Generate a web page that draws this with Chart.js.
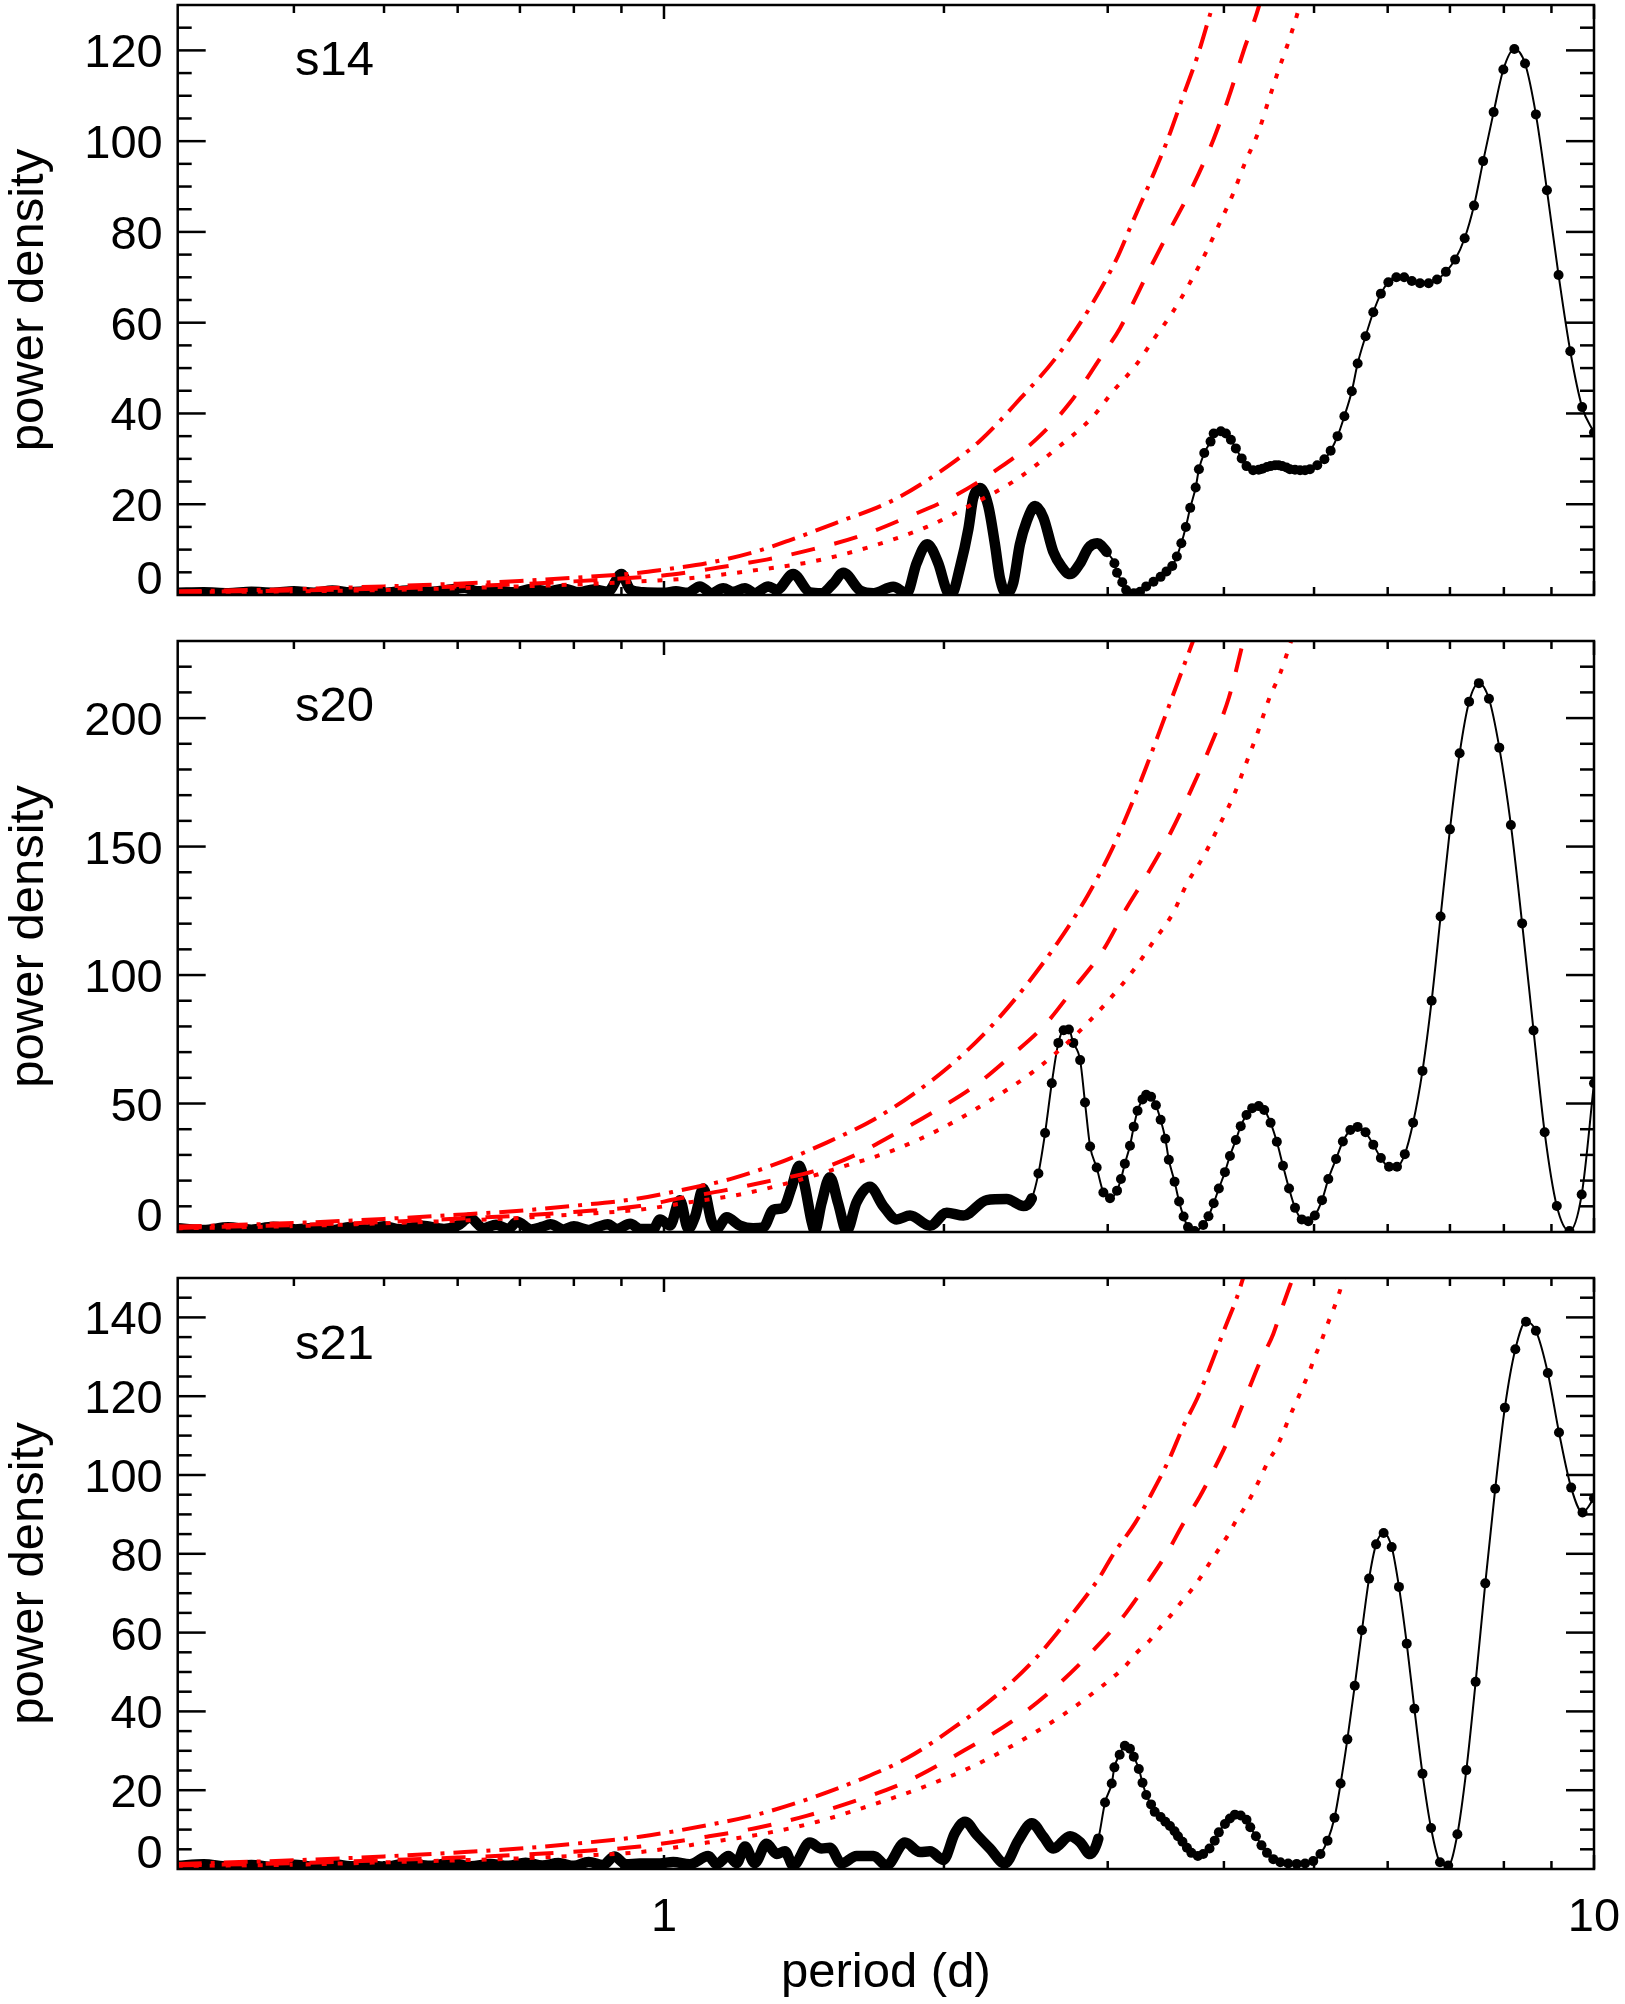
<!DOCTYPE html>
<html>
<head>
<meta charset="utf-8">
<script src="https://cdn.jsdelivr.net/npm/chart.js@4.4.1/dist/chart.umd.min.js"></script>
<style>
  html, body { margin: 0; padding: 0; background: #fff; }
  #wrap { position: relative; width: 1625px; height: 2004px; background: #fff; overflow: hidden; }
  canvas { position: absolute; left: 0; }
</style>
</head>
<body>
<div id="wrap">
  <canvas id="c1" width="1625" height="618" style="top:0px;width:1625px;height:618px"></canvas>
  <canvas id="c2" width="1625" height="637" style="top:618px;width:1625px;height:637px"></canvas>
  <canvas id="c3" width="1625" height="749" style="top:1255px;width:1625px;height:749px"></canvas>
</div>
<script>
// ---- data: [period (d), power density] ----

const s14Black = [[0.30,0.5],[0.32,0.6],[0.34,0.4],[0.36,0.7],[0.38,0.5],[0.40,0.8],[0.42,0.5],[0.44,1.0],[0.46,0.6],[0.48,0.8],[0.50,0.5],
  [0.53,1.0],[0.56,0.7],[0.59,1.2],[0.61,1.6],[0.63,0.8],[0.66,1.0],[0.69,0.6],[0.72,1.3],[0.75,0.8],[0.78,1.4],[0.81,0.6],[0.84,1.2],[0.87,0.7],[0.90,4.6],[0.92,1.2],[0.95,0.6],
  [1.00,0.5],[1.03,0.8],[1.06,0.5],[1.093,1.9],[1.125,0.4],[1.158,1.5],[1.187,0.7],[1.222,1.5],[1.252,0.4],[1.295,1.9],[1.322,1.1],[1.377,4.6],[1.435,0.6],[1.477,0.4],[1.52,2.5],[1.559,4.9],
  [1.625,1.0],[1.68,0.4],[1.764,1.8],[1.824,0.4],[1.869,7.0],[1.919,11.2],[1.972,7.0],[2.014,1.0],[2.039,0.3],[2.081,6.1],[2.125,14.6],[2.15,21.3],[2.187,23.6],[2.232,19.6],[2.269,11.2],
  [2.298,3.6],[2.336,0.3],[2.375,2.8],[2.414,11.2],[2.455,16.3],[2.506,19.6],[2.558,17.1],[2.622,9.5],[2.677,6.2],[2.733,4.6],[2.802,7.0],[2.86,10.4],[2.924,11.4],[2.992,9.5],
  [3.05,7.0],[3.07,4.9],[3.11,2.8],[3.14,1.1],[3.20,0.4],[3.25,0.7],[3.30,1.9],[3.36,2.9],[3.42,4.0],[3.47,5.2],[3.52,6.4],[3.56,8.5],[3.60,11.4],[3.64,15.0],[3.68,19.2],[3.73,23.7],
  [3.76,27.7],[3.81,31.3],[3.87,33.8],[3.90,35.6],[3.97,36.1],[4.02,35.6],[4.07,34.2],[4.12,32.3],[4.18,30.1],[4.23,28.4],[4.30,27.5],[4.36,27.6],[4.40,27.8],[4.45,28.2],[4.49,28.4],
  [4.54,28.6],[4.58,28.6],[4.62,28.4],[4.67,28.1],[4.71,27.7],[4.77,27.6],[4.83,27.5],[4.89,27.5],[4.95,27.7],[5.04,28.6],[5.13,29.9],[5.21,31.8],[5.30,35.0],[5.39,39.4],[5.49,44.9],
  [5.57,51.0],[5.68,57.0],[5.79,62.3],[5.90,66.4],[6.01,68.9],[6.13,70.0],[6.25,70.0],[6.37,69.2],[6.50,68.7],[6.64,68.7],[6.78,69.5],[6.93,71.2],[7.09,73.9],[7.26,78.6],[7.43,85.8],
  [7.60,95.6],[7.80,106.4],[7.99,115.8],[8.21,120.3],[8.43,117.1],[8.66,105.9],[8.90,89.2],[9.16,70.5],[9.43,53.7],[9.71,41.4],[10.0,35.8]];
const s14DashDot = [[0.30,0.8],[0.40,1.3],[0.50,1.9],[0.60,2.5],[0.70,3.1],[0.80,3.8],[0.942,4.9],[1.0,5.6],[1.112,7.0],[1.247,9.4],[1.362,12.0],[1.527,15.8],[1.764,20.9],[1.981,27.2],
  [2.187,34.0],[2.414,43.2],[2.644,52.5],[2.872,63.4],[3.066,74.0],[3.18,81.5],[3.35,92.1],[3.47,99.7],[3.62,110.2],[3.75,119.0],[3.87,128.3],[3.90,130.5]];
const s14Dashed = [[0.30,0.6],[0.40,1.0],[0.50,1.4],[0.60,1.9],[0.70,2.4],[0.80,3.0],[0.942,3.9],[1.02,4.5],[1.149,6.1],[1.289,7.8],[1.447,10.1],[1.625,13.0],[1.824,17.1],[2.047,21.7],
  [2.298,28.1],[2.516,34.4],[2.733,42.4],[2.943,52.1],[3.093,58.8],[3.33,71.9],[3.49,80.0],[3.71,90.4],[3.90,100.5],[4.05,109.8],[4.20,119.9],[4.36,129.6],[4.37,130.4]];
const s14Dotted = [[0.30,0.5],[0.40,0.8],[0.50,1.1],[0.60,1.5],[0.70,1.9],[0.80,2.3],[0.942,3.0],[1.066,3.7],[1.237,5.3],[1.447,7.4],[1.652,10.4],[1.917,15.0],[2.150,20.1],[2.395,25.5],
  [2.644,32.3],[2.895,39.4],[3.04,44.9],[3.21,50.4],[3.36,56.3],[3.52,62.2],[3.68,68.9],[3.82,75.2],[3.96,82.0],[4.09,88.3],[4.21,95.0],[4.36,102.2],[4.46,108.5],[4.58,115.7],
  [4.71,122.8],[4.82,129.6],[4.83,130.4]];

const s20Black = [[0.30,1.5],[0.32,0.8],[0.34,1.8],[0.36,0.9],[0.38,2.0],[0.40,1.0],[0.42,1.6],[0.44,0.7],[0.46,1.9],[0.48,1.0],[0.50,2.2],[0.52,1.1],[0.55,2.4],[0.58,1.2],[0.60,2.5],
  [0.618,5.5],[0.64,1.5],[0.66,2.8],[0.68,1.2],[0.695,4.0],[0.72,1.0],[0.74,2.0],[0.755,3.0],[0.78,1.0],[0.80,2.2],[0.83,0.8],[0.85,2.0],[0.87,3.0],[0.89,1.2],[0.92,3.2],[0.942,1.2],
  [0.974,1.2],[0.990,4.9],[1.015,2.5],[1.040,12.4],[1.062,1.2],[1.080,6.0],[1.102,16.9],[1.125,4.2],[1.139,1.2],[1.168,5.7],[1.207,2.5],[1.247,1.5],[1.279,1.8],[1.311,8.7],[1.344,9.4],
  [1.372,17.6],[1.398,25.8],[1.418,17.6],[1.441,4.2],[1.453,0.4],[1.477,11.2],[1.508,21.3],[1.539,11.2],[1.572,0.4],[1.611,11.6],[1.665,17.6],[1.721,10.1],[1.779,4.9],[1.839,6.4],
  [1.932,2.4],[2.014,7.5],[2.099,6.4],[2.223,12.4],[2.336,12.8],[2.435,10.1],[2.486,13.1],
  [2.527,22.8],[2.569,38.5],[2.612,57.9],[2.655,73.6],[2.690,78.5],[2.725,78.8],[2.755,73.6],[2.802,66.9],[2.836,50.4],[2.872,33.3],[2.919,25.1],[2.968,15.4],[3.017,13.1],[3.07,16.1],
  [3.10,20.6],[3.13,26.6],[3.17,33.6],[3.20,41.0],[3.23,47.2],[3.27,51.6],[3.30,53.4],[3.34,52.6],[3.38,49.3],[3.42,43.7],[3.46,36.3],[3.49,28.1],[3.54,19.6],[3.58,11.9],[3.62,6.0],
  [3.66,1.9],[3.72,0.4],[3.80,2.7],[3.85,6.1],[3.90,11.2],[3.95,16.9],[4.01,23.3],[4.06,29.6],[4.12,35.8],[4.17,41.2],[4.23,45.5],[4.29,48.2],[4.36,49.0],[4.42,47.5],[4.49,42.5],
  [4.56,35.1],[4.63,25.8],[4.70,16.9],[4.77,9.4],[4.85,4.9],[4.93,4.2],[5.01,6.4],[5.10,12.4],[5.18,20.6],[5.28,28.4],[5.37,35.2],[5.47,39.7],[5.57,40.9],[5.68,38.8],[5.79,34.0],
  [5.90,28.8],[6.02,25.4],[6.14,25.4],[6.26,30.3],[6.39,42.5],[6.54,62.7],[6.69,90.0],[6.84,122.8],[7.00,156.7],[7.17,186.3],[7.34,206.4],[7.52,213.6],[7.71,207.5],[7.91,188.5],
  [8.14,158.4],[8.37,120.1],[8.61,78.4],[8.85,38.8],[9.12,10.1],[9.41,0.4],[9.70,14.6],[10.0,57.9]];
const s20DashDot = [[0.30,2.1],[0.40,3.5],[0.50,5.1],[0.60,6.7],[0.70,8.3],[0.80,10.2],[0.942,13.1],[1.040,16.2],[1.178,20.6],[1.322,26.6],[1.496,34.8],[1.680,43.7],[1.854,53.7],
  [2.052,66.1],[2.256,80.6],[2.46,96.7],[2.656,113.1],[2.855,131.0],[3.036,149.4],[3.17,165.0],[3.30,181.0],[3.42,196.0],[3.56,213.0],[3.71,230.5]];
const s20Dashed = [[0.30,1.6],[0.40,2.7],[0.50,3.9],[0.60,5.2],[0.70,6.4],[0.80,7.8],[0.942,10.1],[1.040,13.1],[1.158,16.1],[1.300,19.9],[1.447,23.6],[1.598,29.6],[1.764,37.8],
  [1.948,46.7],[2.150,56.4],[2.35,67.9],[2.569,80.7],[2.76,94.9],[2.963,109.4],[3.14,125.8],[3.30,138.5],[3.50,154.9],[3.68,171.3],[3.87,189.3],[4.05,208.0],[4.20,230.5]];
const s20Dotted = [[0.30,1.4],[0.40,2.3],[0.50,3.4],[0.60,4.4],[0.70,5.5],[0.80,6.8],[0.942,8.7],[1.066,11.6],[1.207,14.6],[1.377,19.6],[1.546,25.1],[1.764,31.8],[1.981,40.0],
  [2.241,51.2],[2.495,62.4],[2.755,75.8],[2.992,89.3],[3.21,102.7],[3.36,113.1],[3.52,123.6],[3.65,135.5],[3.81,146.7],[3.95,157.9],[4.09,169.1],[4.22,181.8],[4.35,194.5],
  [4.47,207.2],[4.60,217.6],[4.73,230.5]];

const s21Black = [[0.30,0.8],[0.32,1.2],[0.34,0.6],[0.36,1.0],[0.38,0.5],[0.40,1.1],[0.42,0.6],[0.44,1.3],[0.46,0.7],[0.48,1.0],[0.50,0.6],[0.53,1.4],[0.56,0.8],[0.59,1.5],[0.62,0.7],
  [0.65,1.3],[0.68,0.8],[0.71,1.6],[0.74,0.9],[0.77,1.5],[0.80,0.8],[0.83,1.8],[0.86,1.0],[0.884,3.2],[0.91,1.2],[0.942,1.4],[0.990,1.4],[1.023,1.8],[1.066,1.2],[1.116,3.3],[1.139,1.2],
  [1.173,3.3],[1.197,1.5],[1.222,5.7],[1.252,1.5],[1.289,6.4],[1.322,3.8],[1.349,4.5],[1.377,0.9],[1.435,6.7],[1.477,5.2],[1.508,5.4],[1.552,1.4],[1.611,3.3],[1.680,3.3],[1.735,0.9],
  [1.816,6.7],[1.885,4.3],[1.932,4.5],[1.997,2.3],[2.055,9.1],[2.107,12.0],[2.169,8.7],[2.241,5.2],[2.326,1.4],[2.404,7.2],[2.486,11.6],[2.558,8.2],[2.622,5.2],[2.733,8.3],[2.802,6.8],
  [2.872,3.8],[2.931,7.7],
  [2.980,16.9],[3.03,21.7],[3.05,25.8],[3.09,29.0],[3.13,31.3],[3.17,30.5],[3.20,28.5],[3.24,25.4],[3.27,21.9],[3.30,18.8],[3.34,16.4],[3.37,14.5],[3.42,13.2],[3.46,12.0],[3.50,10.9],
  [3.54,9.6],[3.57,8.3],[3.61,6.9],[3.65,5.4],[3.69,4.1],[3.75,3.3],[3.80,3.8],[3.86,5.2],[3.91,7.2],[3.95,9.3],[4.01,11.4],[4.06,12.8],[4.11,13.8],[4.17,13.6],[4.23,12.5],[4.27,10.6],
  [4.33,8.3],[4.39,6.0],[4.45,4.1],[4.52,2.5],[4.60,1.7],[4.69,1.4],[4.79,1.3],[4.89,1.4],[4.99,2.0],[5.08,3.8],[5.17,7.2],[5.26,13.0],[5.34,21.7],[5.43,32.9],[5.53,46.5],[5.63,60.6],
  [5.73,73.7],[5.83,82.4],[5.94,85.3],[6.06,81.7],[6.17,71.6],[6.29,57.2],[6.41,40.7],[6.54,24.2],[6.68,10.4],[6.83,1.7],[6.97,0.9],[7.13,8.8],[7.29,25.1],[7.46,47.5],[7.64,72.5],
  [7.83,96.5],[8.02,117.1],[8.23,131.9],[8.45,138.9],[8.66,136.6],[8.92,125.9],[9.17,110.8],[9.45,96.8],[9.72,90.5],[10.0,94.1]];
const s21DashDot = [[0.30,1.3],[0.40,2.2],[0.50,3.2],[0.60,4.2],[0.70,5.2],[0.80,6.4],[0.942,8.2],[1.112,11.1],[1.268,14.0],[1.435,17.9],[1.625,22.7],[1.824,28.1],[2.047,35.8],
  [2.279,44.1],[2.495,52.8],[2.733,64.0],[2.943,74.2],[3.04,79.8],[3.21,87.8],[3.34,95.0],[3.49,103.8],[3.62,112.5],[3.75,119.8],[3.88,128.5],[4.01,137.3],[4.13,145.0],[4.20,150.4]];
const s21Dashed = [[0.30,0.9],[0.40,1.5],[0.50,2.2],[0.60,2.9],[0.70,3.6],[0.80,4.4],[0.942,5.7],[1.112,8.2],[1.268,10.6],[1.423,13.5],[1.611,17.4],[1.824,22.2],[2.064,29.0],
  [2.388,38.1],[2.616,45.5],[2.848,53.8],[3.03,60.6],[3.14,65.0],[3.30,72.2],[3.47,80.0],[3.62,87.8],[3.77,94.6],[3.92,102.3],[4.03,108.2],[4.15,115.4],[4.27,122.7],[4.37,128.5],
  [4.52,135.8],[4.63,143.1],[4.75,150.4]];
const s21Dotted = [[0.30,0.7],[0.40,1.1],[0.50,1.7],[0.60,2.2],[0.70,2.7],[0.80,3.3],[0.942,4.3],[1.112,6.7],[1.289,9.1],[1.462,12.0],[1.680,16.4],[1.900,20.8],[2.150,26.1],
  [2.414,32.4],[2.688,39.2],[2.943,46.0],[3.03,48.4],[3.13,51.4],[3.22,54.8],[3.32,57.7],[3.41,61.1],[3.51,64.5],[3.59,67.4],[3.69,70.8],[3.78,74.2],[3.86,77.6],[3.95,81.2],[4.04,84.7],
  [4.12,88.3],[4.21,91.7],[4.30,95.5],[4.38,99.4],[4.46,103.3],[4.55,106.7],[4.63,110.6],[4.70,114.5],[4.78,118.3],[4.86,122.2],[4.94,126.1],[5.01,130.0],[5.09,133.9],[5.16,137.8],
  [5.24,141.7],[5.31,145.5],[5.39,150.4]];

// ---- axes ----
const xMajorTicks = [1, 10];
const xMinorTicks = [0.4, 0.5, 0.6, 0.7, 0.8, 0.9, 2, 3, 4, 5, 6, 7, 8, 9];
const xTickLabels = ['1', '10'];
const s14YLabels = [0, 20, 40, 60, 80, 100, 120];
const s20YLabels = [0, 50, 100, 150, 200];
const s21YLabels = [0, 20, 40, 60, 80, 100, 120, 140];

const FONT = '"Liberation Sans", Arial, Helvetica, sans-serif';
const RED = '#ff0000';

const toXY = arr => arr.map(p => ({ x: p[0], y: p[1] }));

// IDL-like box with inward ticks on all four sides
const idlAxes = {
  id: 'idlAxes',
  afterDraw(chart) {
    const o = chart.options.plugins.idlAxes;
    const { ctx, chartArea: a } = chart;
    const xs = chart.scales.x, ys = chart.scales.y;
    const seg = (x1, y1, x2, y2) => { ctx.beginPath(); ctx.moveTo(x1, y1); ctx.lineTo(x2, y2); ctx.stroke(); };
    ctx.save();
    ctx.strokeStyle = '#000';
    ctx.fillStyle = '#000';
    ctx.lineWidth = 2.5;

    xMinorTicks.forEach(v => {
      const px = xs.getPixelForValue(v);
      seg(px, a.bottom, px, a.bottom - 8);
      seg(px, a.top, px, a.top + 8);
    });
    xMajorTicks.forEach(v => {
      const px = xs.getPixelForValue(v);
      seg(px, a.bottom, px, a.bottom - 14);
      seg(px, a.top, px, a.top + 14);
    });
    const n = Math.round(o.yMax / o.minor);
    for (let i = 1; i < n; i++) {
      const v = i * o.minor;
      const len = (v % o.major === 0) ? 28 : 14;
      const py = ys.getPixelForValue(v);
      seg(a.left, py, a.left + len, py);
      seg(a.right, py, a.right - len, py);
    }
    ctx.strokeRect(a.left, a.top, a.right - a.left, a.bottom - a.top);

    // y tick labels
    ctx.font = '47px ' + FONT;
    ctx.textAlign = 'right';
    ctx.textBaseline = 'alphabetic';
    o.labels.forEach(v => {
      const py = ys.getPixelForValue(v);
      const base = v === 0 ? a.bottom - 1 : py + 17;
      ctx.fillText(String(v), a.left - 15, base);
    });

    // panel name
    ctx.font = '49px ' + FONT;
    ctx.textAlign = 'left';
    ctx.fillText(o.name, 295, a.top + o.nameOffset + 17.5);

    // y title
    ctx.save();
    ctx.translate(43, (a.top + a.bottom) / 2);
    ctx.rotate(-Math.PI / 2);
    ctx.textAlign = 'center';
    ctx.fillText('power density', 0, 0);
    ctx.restore();

    if (o.showX) {
      ctx.font = '47px ' + FONT;
      ctx.textAlign = 'center';
      xMajorTicks.forEach((v, i) => {
        ctx.fillText(xTickLabels[i], xs.getPixelForValue(v), a.bottom + 62);
      });
      ctx.font = '49px ' + FONT;
      ctx.fillText('period (d)', (a.left + a.right) / 2, a.bottom + 118);
    }
    ctx.restore();
  }
};

function redLine(arr, dash) {
  return {
    data: toXY(arr),
    borderColor: RED,
    borderWidth: 4,
    borderDash: dash,
    borderCapStyle: 'butt',
    pointRadius: 0,
    cubicInterpolationMode: 'monotone',
    fill: false,
    clip: 0
  };
}

function makePanel(id, cfg) {
  const dotFrom = cfg.dotFrom;
  return new Chart(document.getElementById(id), {
    type: 'line',
    data: {
      datasets: [
        redLine(cfg.dashDot, [24, 9, 4, 9]),
        redLine(cfg.dashed, [24, 20]),
        redLine(cfg.dotted, [5, 11]),
        {
          data: toXY(cfg.black),
          borderColor: '#000',
          backgroundColor: '#000',
          borderWidth: 2,
          borderJoinStyle: 'round',
          borderCapStyle: 'round',
          pointRadius: c => (c.raw && c.raw.x >= dotFrom) ? 5 : 0,
          pointBorderWidth: 0,
          pointHoverRadius: 0,
          cubicInterpolationMode: 'monotone',
          segment: {
            borderWidth: c => c.p1.parsed.x < dotFrom ? 10.5 : 2
          },
          fill: false,
          clip: 0
        }
      ]
    },
    options: {
      responsive: false,
      animation: false,
      devicePixelRatio: 1,
      events: [],
      layout: { padding: { left: 177.7, right: 31, top: cfg.padTop, bottom: cfg.padBottom } },
      plugins: {
        legend: { display: false },
        tooltip: { enabled: false },
        idlAxes: cfg.axes
      },
      scales: {
        x: { type: 'logarithmic', min: 0.3, max: 10, display: false },
        y: { type: 'linear', min: 0, max: cfg.axes.yMax, display: false }
      }
    },
    plugins: [idlAxes]
  });
}

makePanel('c1', {
  black: s14Black, dashDot: s14DashDot, dashed: s14Dashed, dotted: s14Dotted,
  dotFrom: 3.0, padTop: 4, padBottom: 23,
  axes: { name: 's14', nameOffset: 52, yMax: 130, major: 20, minor: 5, labels: s14YLabels, showX: false }
});
makePanel('c2', {
  black: s20Black, dashDot: s20DashDot, dashed: s20Dashed, dotted: s20Dotted,
  dotFrom: 2.5, padTop: 23, padBottom: 23,
  axes: { name: 's20', nameOffset: 62, yMax: 230, major: 50, minor: 10, labels: s20YLabels, showX: false }
});
makePanel('c3', {
  black: s21Black, dashDot: s21DashDot, dashed: s21Dashed, dotted: s21Dotted,
  dotFrom: 2.95, padTop: 23, padBottom: 135,
  axes: { name: 's21', nameOffset: 63, yMax: 150, major: 20, minor: 5, labels: s21YLabels, showX: true }
});
</script>
</body>
</html>
